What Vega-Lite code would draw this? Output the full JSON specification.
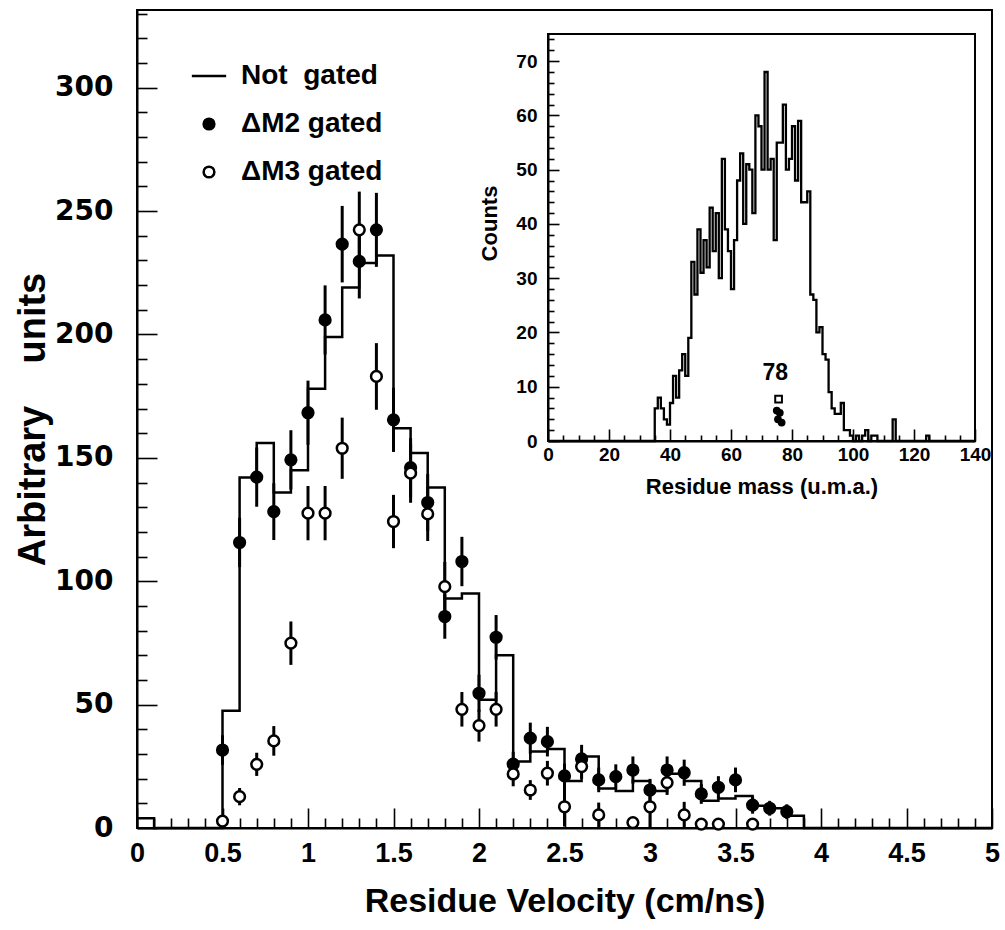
{
  "$schema": "https://vega.github.io/schema/vega-lite/v6.json",
  "width": 855,
  "height": 818,
  "autosize": {"type": "none"},
  "padding": {"left": 137, "top": 10, "right": 13, "bottom": 102},
  "background": "white",
  "config": {
    "font": "Liberation Sans",
    "view": {"stroke": "black", "strokeWidth": 2},
    "axis": {
      "grid": false,
      "domainColor": "black",
      "domainWidth": 2,
      "tickColor": "black",
      "tickWidth": 1.6,
      "labelColor": "black",
      "titleColor": "black",
      "labelFontWeight": "bold",
      "titleFontWeight": "bold",
      "labelFont": "Liberation Sans",
      "titleFont": "Liberation Sans",
      "labelOverlap": false,
      "labelFlush": false
    }
  },
  "datasets": {
    "hist": [
      {"v": 0, "n": 4}, {"v": 0.1, "n": 0}, {"v": 0.5, "n": 47.5}, {"v": 0.6, "n": 142},
      {"v": 0.7, "n": 156}, {"v": 0.8, "n": 136}, {"v": 0.9, "n": 145}, {"v": 1.0, "n": 178},
      {"v": 1.1, "n": 199}, {"v": 1.2, "n": 219}, {"v": 1.3, "n": 229}, {"v": 1.4, "n": 232},
      {"v": 1.5, "n": 162}, {"v": 1.6, "n": 152}, {"v": 1.7, "n": 138}, {"v": 1.8, "n": 93},
      {"v": 1.9, "n": 95}, {"v": 2.0, "n": 52}, {"v": 2.1, "n": 70}, {"v": 2.2, "n": 27},
      {"v": 2.3, "n": 31}, {"v": 2.4, "n": 32}, {"v": 2.5, "n": 19}, {"v": 2.6, "n": 29},
      {"v": 2.7, "n": 16}, {"v": 2.8, "n": 15}, {"v": 2.9, "n": 19}, {"v": 3.0, "n": 15},
      {"v": 3.1, "n": 22}, {"v": 3.2, "n": 19}, {"v": 3.3, "n": 11}, {"v": 3.4, "n": 12},
      {"v": 3.5, "n": 13}, {"v": 3.6, "n": 9}, {"v": 3.7, "n": 8}, {"v": 3.8, "n": 5},
      {"v": 3.9, "n": 0}, {"v": 5.0, "n": 0}
    ],
    "pts": [
      {"v": 0.5, "s": "ΔM2 gated", "val": 31.6, "err": 6},
      {"v": 0.6, "s": "ΔM2 gated", "val": 115.7, "err": 10},
      {"v": 0.7, "s": "ΔM2 gated", "val": 142.2, "err": 12},
      {"v": 0.8, "s": "ΔM2 gated", "val": 128.2, "err": 11.5},
      {"v": 0.9, "s": "ΔM2 gated", "val": 149.2, "err": 12},
      {"v": 1.0, "s": "ΔM2 gated", "val": 168.3, "err": 13},
      {"v": 1.1, "s": "ΔM2 gated", "val": 205.9, "err": 14},
      {"v": 1.2, "s": "ΔM2 gated", "val": 236.6, "err": 15.5},
      {"v": 1.3, "s": "ΔM2 gated", "val": 229.6, "err": 15},
      {"v": 1.4, "s": "ΔM2 gated", "val": 242.4, "err": 15},
      {"v": 1.5, "s": "ΔM2 gated", "val": 165.4, "err": 13},
      {"v": 1.6, "s": "ΔM2 gated", "val": 146, "err": 12},
      {"v": 1.7, "s": "ΔM2 gated", "val": 131.9, "err": 11.5},
      {"v": 1.8, "s": "ΔM2 gated", "val": 85.7, "err": 9},
      {"v": 1.9, "s": "ΔM2 gated", "val": 108, "err": 10},
      {"v": 2.0, "s": "ΔM2 gated", "val": 54.6, "err": 7.5},
      {"v": 2.1, "s": "ΔM2 gated", "val": 77.3, "err": 9},
      {"v": 2.2, "s": "ΔM2 gated", "val": 25.9, "err": 5},
      {"v": 2.3, "s": "ΔM2 gated", "val": 36.4, "err": 6.3},
      {"v": 2.4, "s": "ΔM2 gated", "val": 35, "err": 6},
      {"v": 2.5, "s": "ΔM2 gated", "val": 21.1, "err": 5},
      {"v": 2.6, "s": "ΔM2 gated", "val": 28, "err": 5.7},
      {"v": 2.7, "s": "ΔM2 gated", "val": 19.5, "err": 5},
      {"v": 2.8, "s": "ΔM2 gated", "val": 20.8, "err": 5},
      {"v": 2.9, "s": "ΔM2 gated", "val": 23.5, "err": 5.5},
      {"v": 3.0, "s": "ΔM2 gated", "val": 15.4, "err": 4.5},
      {"v": 3.1, "s": "ΔM2 gated", "val": 23.5, "err": 5.5},
      {"v": 3.2, "s": "ΔM2 gated", "val": 22.4, "err": 5.3},
      {"v": 3.3, "s": "ΔM2 gated", "val": 13.8, "err": 4},
      {"v": 3.4, "s": "ΔM2 gated", "val": 16.5, "err": 4.5},
      {"v": 3.5, "s": "ΔM2 gated", "val": 19.5, "err": 5},
      {"v": 3.6, "s": "ΔM2 gated", "val": 9.3, "err": 3.5},
      {"v": 3.7, "s": "ΔM2 gated", "val": 8, "err": 3},
      {"v": 3.8, "s": "ΔM2 gated", "val": 6.6, "err": 3},
      {"v": 0.5, "s": "ΔM3 gated", "val": 2.8, "err": 2},
      {"v": 0.6, "s": "ΔM3 gated", "val": 12.7, "err": 3.5},
      {"v": 0.7, "s": "ΔM3 gated", "val": 25.8, "err": 4.7},
      {"v": 0.8, "s": "ΔM3 gated", "val": 35.3, "err": 6},
      {"v": 0.9, "s": "ΔM3 gated", "val": 74.9, "err": 8.8},
      {"v": 1.0, "s": "ΔM3 gated", "val": 127.6, "err": 11},
      {"v": 1.1, "s": "ΔM3 gated", "val": 127.6, "err": 11},
      {"v": 1.2, "s": "ΔM3 gated", "val": 153.9, "err": 12.4},
      {"v": 1.3, "s": "ΔM3 gated", "val": 242.4, "err": 15.5},
      {"v": 1.4, "s": "ΔM3 gated", "val": 183, "err": 13.5},
      {"v": 1.5, "s": "ΔM3 gated", "val": 124.2, "err": 10.8},
      {"v": 1.6, "s": "ΔM3 gated", "val": 143.8, "err": 12},
      {"v": 1.7, "s": "ΔM3 gated", "val": 127.3, "err": 11},
      {"v": 1.8, "s": "ΔM3 gated", "val": 97.8, "err": 10},
      {"v": 1.9, "s": "ΔM3 gated", "val": 48.1, "err": 7},
      {"v": 2.0, "s": "ΔM3 gated", "val": 41.5, "err": 6.5},
      {"v": 2.1, "s": "ΔM3 gated", "val": 48.1, "err": 7},
      {"v": 2.2, "s": "ΔM3 gated", "val": 21.9, "err": 5},
      {"v": 2.3, "s": "ΔM3 gated", "val": 15.4, "err": 4},
      {"v": 2.4, "s": "ΔM3 gated", "val": 22.2, "err": 5},
      {"v": 2.5, "s": "ΔM3 gated", "val": 8.6, "err": 8},
      {"v": 2.6, "s": "ΔM3 gated", "val": 24.9, "err": 5},
      {"v": 2.7, "s": "ΔM3 gated", "val": 5.3, "err": 5},
      {"v": 2.9, "s": "ΔM3 gated", "val": 2.2, "err": 2.2},
      {"v": 3.0, "s": "ΔM3 gated", "val": 8.6, "err": 8.6},
      {"v": 3.1, "s": "ΔM3 gated", "val": 18.4, "err": 5},
      {"v": 3.2, "s": "ΔM3 gated", "val": 5.3, "err": 5.3},
      {"v": 3.3, "s": "ΔM3 gated", "val": 1.6, "err": 1.6},
      {"v": 3.4, "s": "ΔM3 gated", "val": 1.6, "err": 1.6},
      {"v": 3.6, "s": "ΔM3 gated", "val": 1.6, "err": 1.6}
    ],
    "mass": [
      {"m": 0, "c": 0}, {"m": 35, "c": 6}, {"m": 36, "c": 8}, {"m": 37, "c": 6}, {"m": 38, "c": 4},
      {"m": 39, "c": 3}, {"m": 40, "c": 7}, {"m": 41, "c": 12}, {"m": 42, "c": 8}, {"m": 43, "c": 13},
      {"m": 44, "c": 16}, {"m": 45, "c": 12}, {"m": 46, "c": 19}, {"m": 47, "c": 33}, {"m": 48, "c": 27},
      {"m": 49, "c": 39}, {"m": 50, "c": 31}, {"m": 51, "c": 37}, {"m": 52, "c": 32}, {"m": 53, "c": 43},
      {"m": 54, "c": 35}, {"m": 55, "c": 42}, {"m": 56, "c": 30}, {"m": 57, "c": 52}, {"m": 58, "c": 39},
      {"m": 59, "c": 35}, {"m": 60, "c": 28}, {"m": 61, "c": 37}, {"m": 62, "c": 48}, {"m": 63, "c": 53},
      {"m": 64, "c": 40}, {"m": 65, "c": 51}, {"m": 66, "c": 50}, {"m": 67, "c": 42}, {"m": 68, "c": 60},
      {"m": 69, "c": 58}, {"m": 70, "c": 50}, {"m": 71, "c": 68}, {"m": 72, "c": 50}, {"m": 73, "c": 52},
      {"m": 74, "c": 37}, {"m": 75, "c": 55}, {"m": 76, "c": 55}, {"m": 77, "c": 62}, {"m": 78, "c": 50},
      {"m": 79, "c": 52}, {"m": 80, "c": 58}, {"m": 81, "c": 48}, {"m": 82, "c": 59}, {"m": 83, "c": 44},
      {"m": 84, "c": 44}, {"m": 85, "c": 46}, {"m": 86, "c": 27}, {"m": 87, "c": 26}, {"m": 88, "c": 20},
      {"m": 89, "c": 21}, {"m": 90, "c": 16}, {"m": 91, "c": 15}, {"m": 92, "c": 9}, {"m": 93, "c": 6},
      {"m": 94, "c": 5}, {"m": 95, "c": 5}, {"m": 96, "c": 7}, {"m": 97, "c": 2}, {"m": 98, "c": 2},
      {"m": 99, "c": 1}, {"m": 100, "c": 0}, {"m": 101, "c": 1}, {"m": 102, "c": 0}, {"m": 103, "c": 1},
      {"m": 104, "c": 2}, {"m": 105, "c": 0}, {"m": 106, "c": 1}, {"m": 107, "c": 1}, {"m": 108, "c": 0},
      {"m": 113, "c": 4}, {"m": 114, "c": 0}, {"m": 124, "c": 1}, {"m": 125, "c": 0}, {"m": 140, "c": 0}
    ],
    "m78box": [
      {"m": 75.6, "c": 7.7}
    ],
    "m78dot": [
      {"m": 75.0, "c": 5.6},
      {"m": 76.0, "c": 5.2},
      {"m": 75.4, "c": 4.0},
      {"m": 76.6, "c": 3.4}
    ]
  },
  "layer": [
    {
      "resolve": {"axis": {"x": "independent", "y": "independent"}},
      "layer": [
        {
          "data": {"name": "hist"},
          "mark": {"type": "line", "interpolate": "step-after", "color": "black", "strokeWidth": 2.5},
          "encoding": {
            "x": {
              "field": "v", "type": "quantitative", "title": "Residue Velocity (cm/ns)",
              "scale": {"domain": [0, 5], "nice": false},
              "axis": {
                "orient": "bottom",
                "values": [0, 0.5, 1, 1.5, 2, 2.5, 3, 3.5, 4, 4.5, 5],
                "format": "~g",
                "tickSize": -20,
                "labelOverlap": false,
                "labelFlush": false,
                "labelFontSize": 27,
                "labelPadding": 32,
                "titleFontSize": 34,
                "titlePadding": 18
              }
            },
            "y": {
              "field": "n", "type": "quantitative", "title": "Arbitrary\u00a0\u00a0\u00a0 units",
              "scale": {"domain": [0, 331.5], "nice": false},
              "axis": {
                "orient": "left",
                "values": [0, 50, 100, 150, 200, 250, 300],
                "tickSize": -20,
                "labelOverlap": false,
                "labelFlush": false,
                "labelFont": "DejaVu Sans",
                "labelFontSize": 28,
                "labelPadding": 44,
                "titleFontSize": 38,
                "titlePadding": 2
              }
            }
          }
        },
        {
          "data": {"name": "pts"},
          "mark": {"type": "errorbar", "color": "black", "thickness": 3},
          "encoding": {
            "x": {
              "field": "v", "type": "quantitative",
              "axis": {
                "orient": "bottom", "title": null, "labels": false, "domain": false, "tickSize": -10,
                "values": [0,0.1,0.2,0.3,0.4,0.6,0.7,0.8,0.9,1.1,1.2,1.3,1.4,1.6,1.7,1.8,1.9,2.1,2.2,2.3,2.4,2.6,2.7,2.8,2.9,3.1,3.2,3.3,3.4,3.6,3.7,3.8,3.9,4.1,4.2,4.3,4.4,4.6,4.7,4.8,4.9]
              }
            },
            "y": {
              "field": "val", "type": "quantitative",
              "axis": {
                "orient": "left", "title": null, "labels": false, "domain": false, "tickSize": -10,
                "values": [10,20,30,40,60,70,80,90,110,120,130,140,160,170,180,190,210,220,230,240,260,270,280,290,310,320,330]
              }
            },
            "yError": {"field": "err"}
          }
        },
        {
          "data": {"name": "pts"},
          "mark": {"type": "point", "stroke": "black", "strokeWidth": 2.5, "opacity": 1, "size": 115},
          "encoding": {
            "x": {"field": "v", "type": "quantitative", "axis": null},
            "y": {"field": "val", "type": "quantitative", "axis": null},
            "shape": {
              "field": "s", "type": "nominal",
              "scale": {"domain": ["Not\u00a0 gated", "ΔM2 gated", "ΔM3 gated"], "range": ["M-3.2,0L3.2,0", "circle", "circle"]},
              "legend": {
                "orient": "none", "legendX": 58, "legendY": 52, "title": null,
                "labelFontSize": 28, "labelFontWeight": "bold", "labelColor": "black",
                "labelOffset": 18, "rowPadding": 20, "padding": 0, "symbolSize": 115,
                "symbolStrokeColor": "black", "symbolStrokeWidth": 2.5, "symbolOpacity": 1,
                "encode": {"symbols": {"update": {"stroke": {"value": "black"}, "strokeWidth": {"value": 2.5}, "opacity": {"value": 1}}}}
              }
            },
            "fill": {
              "field": "s", "type": "nominal",
              "scale": {"domain": ["Not\u00a0 gated", "ΔM2 gated", "ΔM3 gated"], "range": ["black", "black", "white"]},
              "legend": {
                "orient": "none", "legendX": 58, "legendY": 52, "title": null,
                "labelFontSize": 28, "labelFontWeight": "bold", "labelColor": "black",
                "labelOffset": 18, "rowPadding": 20, "padding": 0, "symbolSize": 115,
                "symbolStrokeColor": "black", "symbolStrokeWidth": 2.5, "symbolOpacity": 1,
                "encode": {"symbols": {"update": {"stroke": {"value": "black"}, "strokeWidth": {"value": 2.5}, "opacity": {"value": 1}}}}
              }
            }
          }
        }
      ]
    },
    {
      "resolve": {"axis": {"x": "independent", "y": "independent"}},
      "layer": [
        {
          "data": {"name": "mass"},
          "mark": {"type": "line", "interpolate": "step-after", "color": "black", "strokeWidth": 2.3},
          "encoding": {
            "x": {
              "field": "m", "type": "quantitative", "title": "Residue mass (u.m.a.)",
              "scale": {"domain": [0, 140], "range": [411, 838], "nice": false},
              "axis": {
                "orient": "bottom",
                "offset": -387,
                "values": [0, 20, 40, 60, 80, 100, 120, 140],
                "tickSize": -12,
                "labelOverlap": false,
                "labelFlush": false,
                "labelFontSize": 19,
                "labelPadding": 16,
                "titleFontSize": 22,
                "titlePadding": 12
              }
            },
            "y": {
              "field": "c", "type": "quantitative", "title": "Counts",
              "scale": {"domain": [0, 75], "range": [431, 24], "nice": false},
              "axis": {
                "orient": "left",
                "offset": -411,
                "values": [0, 10, 20, 30, 40, 50, 60, 70],
                "tickSize": -11,
                "labelOverlap": false,
                "labelFlush": false,
                "labelFontSize": 19,
                "labelPadding": 22,
                "titleFontSize": 22,
                "titlePadding": 14,
                "titleY": 213
              }
            }
          }
        },
        {
          "data": {"values": [{}]},
          "mark": {"type": "rect", "fill": null, "stroke": "black", "strokeWidth": 2},
          "encoding": {
            "x": {
              "datum": 0, "type": "quantitative",
              "axis": {
                "orient": "bottom", "offset": -387, "title": null, "labels": false, "domain": false, "tickSize": -6,
                "values": [5,10,15,25,30,35,45,50,55,65,70,75,85,90,95,105,110,115,125,130,135]
              }
            },
            "x2": {"datum": 140},
            "y": {
              "datum": 0, "type": "quantitative",
              "axis": {
                "orient": "left", "offset": -411, "title": null, "labels": false, "domain": false, "tickSize": -6,
                "values": [2,4,6,8,12,14,16,18,22,24,26,28,32,34,36,38,42,44,46,48,52,54,56,58,62,64,66,68,72,74]
              }
            },
            "y2": {"datum": 75}
          }
        },
        {
          "data": {"values": [{}]},
          "mark": {"type": "text", "fontSize": 23, "fontWeight": "bold", "color": "black"},
          "encoding": {
            "x": {"datum": 74.5, "type": "quantitative", "axis": null},
            "y": {"datum": 12.5, "type": "quantitative", "axis": null},
            "text": {"value": "78"}
          }
        },
        {
          "data": {"name": "m78box"},
          "mark": {"type": "square", "filled": false, "color": "black", "strokeWidth": 2, "opacity": 1, "size": 45},
          "encoding": {
            "x": {"field": "m", "type": "quantitative", "axis": null},
            "y": {"field": "c", "type": "quantitative", "axis": null}
          }
        },
        {
          "data": {"name": "m78dot"},
          "mark": {"type": "circle", "color": "black", "opacity": 1, "size": 60},
          "encoding": {
            "x": {"field": "m", "type": "quantitative", "axis": null},
            "y": {"field": "c", "type": "quantitative", "axis": null}
          }
        }
      ]
    }
  ],
  "resolve": {"scale": {"x": "independent", "y": "independent"}}
}
